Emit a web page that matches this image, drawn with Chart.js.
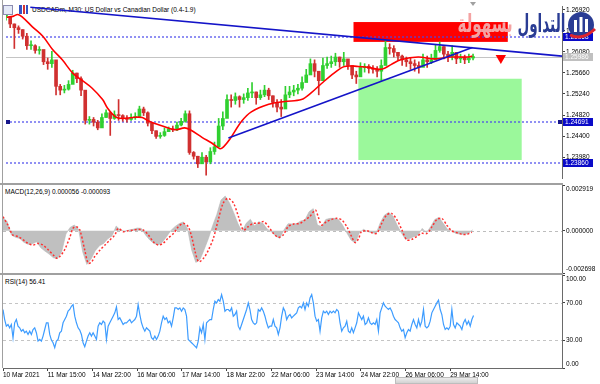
<!DOCTYPE html>
<html><head><meta charset="utf-8">
<script src="https://cdn.jsdelivr.net/npm/chart.js@4.4.1/dist/chart.umd.min.js"></script>
<style>
html,body{margin:0;padding:0;background:#fff;}
#wrap{position:relative;width:600px;height:384px;overflow:hidden;background:#fff;font-family:"Liberation Sans",Arial,sans-serif;}
canvas{position:absolute;left:0;z-index:1;}
.lbl{position:absolute;font-size:6.5px;line-height:7px;color:#000;white-space:nowrap;z-index:0;}
.sep{position:absolute;left:0;width:563px;height:2px;background:#a0a0a0;z-index:2;}
.ar{position:absolute;top:9px;font-family:"DejaVu Sans";font-weight:bold;font-size:25px;line-height:30px;direction:rtl;white-space:nowrap;z-index:3;transform-origin:right top;}
</style></head><body><div id="wrap">
<div class="lbl" style="left:32px;top:6px">USDCADm, M30: US Dollar vs Canadian Dollar (0.4-1.9)</div>
<div class="lbl" style="left:5px;top:188px">MACD(12,26,9) 0.000056 -0.000093</div>
<div class="lbl" style="left:5px;top:278px">RSI(14) 56.41</div>
<canvas id="cMain" width="600" height="184" style="top:0;width:600px;height:184px"></canvas>
<canvas id="cMacd" width="600" height="90" style="top:184px;width:600px;height:90px"></canvas>
<canvas id="cRsi" width="600" height="110" style="top:274px;width:600px;height:110px"></canvas>
<div class="sep" style="top:183px"></div>
<div class="sep" style="top:273px"></div>
<div style="position:absolute;left:2px;top:0;width:1px;height:368px;background:#a0a0a0;z-index:2"></div>
<div style="position:absolute;left:3px;top:5px;width:8px;height:8px;border:1px solid #8c8cb0;background:#e4e9f7;z-index:2"></div>
<div style="position:absolute;left:19px;top:5px;width:9px;height:9px;z-index:2;background:linear-gradient(90deg,#3553c4 0 30%,#fff 30% 40%,#d43232 40% 70%,#fff 70% 80%,#3553c4 80%)"></div>
<div style="position:absolute;left:470px;top:2px;width:0;height:0;border-left:3px solid transparent;border-right:3px solid transparent;border-top:4px solid #a0a0a0;z-index:2"></div>
<div style="position:absolute;left:395px;top:377px;width:83px;height:7px;background:linear-gradient(#ececec,#d2d2d2);border:1px solid #bdbdbd;box-sizing:border-box;z-index:2"></div>
<div class="ar" data-w="48" style="right:35px;color:#2a3c94">التداول</div>
<div class="ar" data-w="55" style="right:87px;color:#f4a3a3">بسهولة</div>
<svg style="position:absolute;left:564px;top:8px;z-index:3" width="34" height="34" viewBox="0 0 34 34">
<circle cx="17" cy="17" r="13" fill="#2a3c94"/>
<rect x="10" y="12" width="3" height="12" fill="#fff"/><rect x="15.5" y="9" width="3" height="15" fill="#fff"/><rect x="21" y="11" width="3" height="13" fill="#fff"/>
<path d="M6 27 Q18 33 31 21" stroke="#e0242c" stroke-width="3" fill="none"/>
</svg>
</div>
<script>
// ---------- data ----------
const xTickBars = [0,64,128,192,256,320,384,448,512,576,640];
const xTickLabels = ["10 Mar 2021","11 Mar 15:00","14 Mar 22:00","16 Mar 06:00","17 Mar 14:00","18 Mar 22:00","22 Mar 06:00","23 Mar 14:00","24 Mar 22:00","26 Mar 06:00","29 Mar 14:00"];
const X_MIN = 0, X_MAX = 800;           // bar index range of the window
const CANDLE_STEP = 6;                   // M30 bars per drawn candle sample

const closes = [
1.26788,1.26637,1.26562,1.26524,1.26392,1.26203,1.26203,1.26109,1.26128,1.25883,
1.25845,1.25921,1.25393,1.25317,1.25336,1.25431,1.25657,1.25544,1.25317,1.24714,
1.24733,1.24677,1.24563,1.24771,1.24865,1.24752,1.24827,1.24809,1.24752,1.24733,
1.24771,1.24790,1.24940,1.24865,1.24658,1.24507,1.24394,1.24413,1.24488,1.24545,
1.24526,1.24620,1.24695,1.24846,1.24073,1.23998,1.23847,1.23979,1.23885,1.24092,
1.24186,1.24601,1.24752,1.25129,1.25110,1.25186,1.25129,1.25167,1.25261,1.25280,
1.25167,1.25223,1.25317,1.25204,1.25072,1.24978,1.24940,1.25223,1.25280,1.25317,
1.25355,1.25468,1.25619,1.25845,1.25694,1.25506,1.25808,1.25845,1.25883,1.25977,
1.25883,1.25940,1.25808,1.25619,1.25581,1.25770,1.25789,1.25751,1.25732,1.25694,
1.25808,1.26166,1.26147,1.26071,1.25996,1.25921,1.25883,1.25845,1.25808,1.25770,
1.25921,1.25883,1.25921,1.26109,1.26185,1.26034,1.25996,1.26071,1.25940,1.25958,
1.25921,1.25958,1.25986];
const highs = [
1.26863,1.26788,1.26637,1.26599,1.26524,1.26448,1.26298,1.26222,1.26185,1.26071,
1.25958,1.26090,1.25845,1.25431,1.25412,1.25506,1.25713,1.25657,1.25581,1.25204,
1.24790,1.24771,1.24714,1.24846,1.24922,1.24884,1.24903,1.25129,1.24827,1.24809,
1.24846,1.24865,1.24997,1.24978,1.24884,1.24658,1.24507,1.24469,1.24563,1.24582,
1.24601,1.24677,1.24752,1.24903,1.24903,1.24092,1.23998,1.24073,1.24017,1.24168,
1.24281,1.24752,1.24884,1.25223,1.25223,1.25261,1.25204,1.25242,1.25355,1.25468,
1.25280,1.25317,1.25412,1.25355,1.25204,1.25129,1.25129,1.25393,1.25393,1.25412,
1.25431,1.25581,1.25732,1.25940,1.25921,1.25657,1.25958,1.25977,1.25996,1.26053,
1.25977,1.26071,1.25921,1.25808,1.25694,1.25864,1.25845,1.25826,1.25808,1.25789,
1.25921,1.26298,1.26241,1.26203,1.26071,1.26015,1.25977,1.25958,1.25921,1.25883,
1.26034,1.25996,1.26034,1.26222,1.26279,1.26185,1.26090,1.26203,1.26034,1.26034,
1.26015,1.26034,1.26034];
const lows = [
1.26712,1.26562,1.26147,1.26448,1.26335,1.26128,1.26128,1.26053,1.26034,1.25826,
1.25732,1.25770,1.25223,1.25223,1.25261,1.25317,1.25506,1.25468,1.25204,1.24639,
1.24639,1.24601,1.24526,1.24677,1.24771,1.24413,1.24733,1.24714,1.24695,1.24677,
1.24714,1.24733,1.24790,1.24809,1.24601,1.24450,1.24356,1.24356,1.24394,1.24488,
1.24488,1.24507,1.24601,1.24677,1.24036,1.23941,1.23772,1.23904,1.23621,1.23847,
1.24036,1.24186,1.24526,1.24790,1.24978,1.25035,1.24978,1.25054,1.25110,1.25167,
1.25035,1.25129,1.25186,1.25129,1.24978,1.24884,1.24790,1.25054,1.25167,1.25204,
1.25242,1.25317,1.25506,1.25657,1.25581,1.25223,1.25694,1.25751,1.25770,1.25808,
1.25770,1.25808,1.25732,1.25544,1.25449,1.25657,1.25676,1.25657,1.25657,1.25581,
1.25506,1.25921,1.26034,1.25977,1.25921,1.25808,1.25789,1.25732,1.25694,1.25657,
1.25808,1.25770,1.25845,1.25958,1.26071,1.25940,1.25883,1.25921,1.25845,1.25864,
1.25845,1.25864,1.25921];

const maBars = [1,10,17,24,38,53,67,81,96,110,124,139,146,157,167,182,196,206,225,243,257,265,282,296,308,313,322,339,353,378,401,425,439,454,472,487,507,521,540,554,568,593,616,640,664,671];
const maValues = [1.26769,1.26788,1.26826,1.26769,1.26580,1.26392,1.26128,1.25921,1.25657,1.25506,
1.25355,1.25129,1.24959,1.24790,1.24752,1.24771,1.24771,1.24695,1.24601,1.24526,
1.24563,1.24526,1.24375,1.24262,1.24149,1.24186,1.24337,1.24695,1.24884,1.25035,
1.25091,1.25129,1.25261,1.25449,1.25657,1.25789,1.25789,1.25770,1.25732,1.25826,
1.25921,1.25977,1.25940,1.25977,1.25977,1.25996];

const priceTicks = [1.23980,1.24400,1.24820,1.25240,1.25660,1.26080,1.26500,1.26920];
const PRICE_MIN = 1.23564, PRICE_MAX = 1.26995;
const hLevels = [1.26368, 1.24691, 1.23860];
const lastPrice = 1.25986;
const trendDown = [{x:35,y:1.26969},{x:800,y:1.25996}];
const trendUp = [{x:320,y:1.24362},{x:671,y:1.26166}];
const redZone = {x0:500,x1:722,yLow:1.26279,yHigh:1.26675};
const greenZone = {x0:507,x1:742,yLow:1.23923,yHigh:1.25544};
const sellArrow = [{x:712,y:1.25958}];

const macdHist = [
0.00085,0.00058,-0.00027,-0.00042,-0.00049,-0.00074,-0.00087,-0.00083,-0.00070,-0.00108,
-0.00130,-0.00149,-0.00172,-0.00178,-0.00134,-0.00021,0.00021,0.00036,0.00011,-0.00134,
-0.00215,-0.00181,-0.00127,-0.00096,-0.00081,-0.00051,-0.00034,0.00030,0.00004,-0.00004,
0.00004,0.00009,0.00017,0.00015,-0.00027,-0.00059,-0.00081,-0.00091,-0.00074,-0.00038,
0.00000,0.00026,0.00045,0.00056,0.00015,-0.00123,-0.00202,-0.00183,-0.00119,-0.00049,
0.00032,0.00104,0.00196,0.00221,0.00179,0.00117,0.00047,-0.00006,0.00047,0.00073,
0.00030,0.00058,0.00047,0.00011,-0.00006,-0.00032,-0.00049,0.00004,0.00045,0.00043,
0.00045,0.00062,0.00068,0.00121,0.00141,0.00036,0.00026,0.00072,0.00079,0.00079,
0.00072,0.00036,-0.00013,-0.00059,-0.00076,-0.00013,0.00009,-0.00006,-0.00013,-0.00017,
0.00051,0.00100,0.00117,0.00094,0.00036,-0.00013,-0.00055,-0.00049,-0.00038,-0.00027,
0.00015,-0.00013,0.00026,0.00072,0.00085,0.00047,0.00009,0.00000,-0.00017,-0.00021,
-0.00023,-0.00017,0.00006];
const signalBars = [0,7,14,22,29,36,43,50,57,65,72,77,81,88,96,100,105,110,117,122,
127,131,139,146,153,160,165,172,179,186,194,201,208,215,222,229,236,244,251,258,
265,270,275,280,287,294,301,308,315,322,330,337,344,351,358,365,373,380,387,394,
401,408,416,425,432,439,447,451,456,463,470,478,485,492,499,504,509,513,521,528,
535,542,549,556,564,571,578,585,592,599,607,614,621,628,635,642,650,657,664,671];
const signalValues = [0.00090,0.00036,-0.00027,-0.00038,-0.00059,-0.00081,-0.00091,-0.00081,-0.00091,-0.00123,
-0.00155,-0.00176,-0.00166,-0.00123,-0.00038,0.00015,0.00026,0.00004,-0.00123,-0.00208,
-0.00198,-0.00166,-0.00123,-0.00091,-0.00059,-0.00027,0.00015,-0.00006,0.00000,0.00004,
0.00009,0.00004,-0.00027,-0.00070,-0.00091,-0.00081,-0.00049,-0.00017,0.00026,0.00047,
0.00026,-0.00038,-0.00134,-0.00198,-0.00176,-0.00123,-0.00049,0.00068,0.00175,0.00207,
0.00175,0.00090,0.00004,0.00026,0.00047,0.00047,0.00058,0.00026,-0.00017,-0.00042,
-0.00027,0.00026,0.00043,0.00047,0.00068,0.00090,0.00132,0.00090,0.00036,0.00058,
0.00072,0.00079,0.00068,0.00026,-0.00038,-0.00076,-0.00049,-0.00006,0.00000,-0.00013,
-0.00017,0.00047,0.00100,0.00111,0.00068,0.00004,-0.00059,-0.00055,-0.00038,-0.00017,
-0.00017,0.00026,0.00072,0.00079,0.00036,0.00000,-0.00013,-0.00023,-0.00023,-0.00009];
const macdTicks = [-0.002698, 0, 0.002919];

const RSI_STEP = 2.388;                  // M30 bars per RSI sample
const rsiValues = [
62.9,52.1,45.0,46.8,43.2,46.8,32.5,48.6,52.1,45.0,
43.2,39.6,41.4,37.9,39.6,36.1,39.6,36.1,41.4,43.2,
37.9,28.9,30.7,28.9,34.3,41.4,48.6,48.6,36.1,30.0,
27.2,21.8,28.9,30.7,37.9,39.6,48.6,52.1,55.7,61.1,
62.9,66.4,68.2,55.7,48.6,43.2,40.7,36.1,27.2,22.9,
28.9,34.3,37.9,34.3,37.9,34.3,30.7,45.0,48.6,46.8,
50.4,48.6,30.7,45.0,48.6,52.1,55.7,59.3,65.7,52.1,
53.9,50.4,46.8,48.6,48.6,50.4,52.1,48.6,50.4,52.1,
55.7,68.2,57.5,48.6,43.2,39.6,43.2,41.4,39.6,32.5,
30.7,34.3,30.7,34.3,39.6,48.6,55.7,52.1,53.9,48.6,
50.4,45.0,53.9,64.6,64.6,62.9,64.6,61.1,64.6,62.9,
55.7,30.7,28.9,27.2,25.4,23.6,21.8,28.9,43.2,37.9,
46.8,30.7,48.6,50.4,52.1,52.1,62.9,71.8,70.0,73.6,
71.8,78.9,71.8,61.1,62.9,62.9,61.1,64.6,55.7,57.5,
61.1,45.0,41.4,46.8,52.1,57.5,62.9,70.0,62.9,52.1,
48.6,46.8,48.6,62.9,61.1,64.6,61.1,55.7,48.6,43.2,
45.0,45.0,52.1,45.0,43.2,36.1,43.2,55.7,64.6,61.1,
52.1,55.7,57.5,53.9,55.7,57.5,59.3,64.6,66.4,64.6,
70.0,62.9,70.0,66.4,75.4,78.9,70.0,55.7,50.4,52.1,
39.6,53.9,61.1,59.3,61.1,57.5,61.1,59.3,61.1,59.3,
62.9,61.1,48.6,39.6,43.2,45.0,50.4,39.6,37.9,43.2,
37.9,43.2,48.6,59.3,55.7,52.1,55.7,46.8,48.6,53.9,
48.6,46.8,48.6,46.8,52.1,39.6,59.3,64.6,70.0,66.4,
64.6,62.9,64.6,61.1,55.7,52.1,50.4,48.6,43.2,39.6,
41.4,32.5,37.9,41.4,39.6,46.8,52.1,46.8,43.2,52.1,
45.0,50.4,62.9,45.0,43.2,45.0,50.4,59.3,62.9,66.4,
70.0,72.9,62.9,57.5,46.8,41.4,43.2,41.4,45.0,62.9,
46.8,43.2,48.6,46.8,45.0,41.4,48.6,52.1,46.8,50.4,
45.0,52.1,56.41];
const rsiTicks = [0,30,70,100];
const rsiLevels = [30,70];

// ---------- rendering ----------
document.querySelectorAll('.ar').forEach(el => {
  const w = el.getBoundingClientRect().width;
  el.style.transform = 'scaleX(' + (Number(el.dataset.w) / w) + ')';
});

Chart.defaults.font.family = '"Liberation Sans", Arial, sans-serif';
Chart.defaults.font.size = 6.5;
Chart.defaults.color = '#000';

const UP = '#30d030', DOWN = '#d03030';
const opens = closes.map((c,i)=> i ? closes[i-1] : c);
const candleColors = closes.map((c,i)=> c >= opens[i] ? UP : DOWN);
const bodies = closes.map((c,i)=>({x:i*CANDLE_STEP, y:[opens[i], c]}));
const wicks = closes.map((c,i)=>({x:i*CANDLE_STEP, y:[lows[i], highs[i]]}));
const maPts = maBars.map((b,i)=>({x:b, y:maValues[i]}));
const histPts = macdHist.map((v,i)=>({x:i*CANDLE_STEP, y:v}));
const sigPts = signalBars.map((b,i)=>({x:b, y:signalValues[i]}));
const rsiPts = rsiValues.map((v,i)=>({x:i*RSI_STEP, y:v}));

const baseOpts = {responsive:false, animation:false, events:[], plugins:{legend:{display:false}, tooltip:{enabled:false}}};
const xHidden = {type:'linear', min:X_MIN, max:X_MAX, display:false, offset:false};

function noPad(s){ s.paddingTop = 0; s.paddingBottom = 0; s.paddingLeft = 0; s.paddingRight = 0; }
function yAxis(min, max, ticks, fmt){
  return {position:'right', min, max, offset:false,
    afterBuildTicks: s => { s.ticks = ticks.map(v => ({value:v})); },
    afterFit: s => { s.width = 38; noPad(s); },
    grid:{drawOnChartArea:false, drawTicks:true, tickLength:3, tickColor:'#404040', tickWidth:1},
    border:{display:true, color:'#6a6a6a', width:1},
    ticks:{padding:1, color:'#000', autoSkip:false, font:{size:6.5}, callback:fmt}};
}
function edgeLabel(text, idx, n){
  if (idx === n-1) return ['', text];
  if (idx === 0) return [text, ''];
  return text;
}
function hline(ctx, a, py){ ctx.beginPath(); ctx.moveTo(a.left, py); ctx.lineTo(a.right, py); ctx.stroke(); }

const mainDeco = {id:'mainDeco',
  beforeDatasetsDraw(chart){
    const {ctx, chartArea:a, scales:{x, y}} = chart;
    ctx.save();
    ctx.beginPath(); ctx.rect(a.left, a.top, a.right-a.left, a.bottom-a.top); ctx.clip();
    const zone = (z, col) => {
      const x0 = x.getPixelForValue(z.x0), x1 = x.getPixelForValue(z.x1);
      const y0 = y.getPixelForValue(z.yHigh), y1 = y.getPixelForValue(z.yLow);
      ctx.fillStyle = col; ctx.fillRect(x0, y0, x1-x0, y1-y0);
    };
    zone(greenZone, '#9bf89b');
    zone(redZone, '#ff0000');
    ctx.strokeStyle = '#c4c4c4'; ctx.lineWidth = 1;
    hline(ctx, a, Math.round(y.getPixelForValue(lastPrice)) + 0.5);
    ctx.setLineDash([2,2]); ctx.strokeStyle = 'rgba(70,70,235,0.8)'; ctx.lineWidth = 1.5;
    hLevels.forEach(v => hline(ctx, a, Math.round(y.getPixelForValue(v))));
    ctx.setLineDash([]);
    ctx.restore();
  },
  afterDraw(chart){
    const {ctx, chartArea:a, scales:{y}} = chart;
    ctx.save();
    ctx.font = '6.5px "Liberation Sans", Arial'; ctx.textBaseline = 'middle'; ctx.textAlign = 'left';
    const tag = (v, bg) => {
      const py = Math.round(y.getPixelForValue(v));
      ctx.fillStyle = bg; ctx.fillRect(a.right+1, py-4, 30, 8);
      ctx.fillStyle = '#fff'; ctx.fillText(v.toFixed(5), a.right+3, py+0.5);
    };
    tag(lastPrice, '#c0c0c0');
    hLevels.forEach(v => tag(v, '#0a0ac8'));
    const pm = Math.round(y.getPixelForValue(hLevels[1]));
    ctx.fillStyle = '#16168a';
    ctx.fillRect(a.left, pm-2, 4, 4); ctx.fillRect(a.right-4, pm-2, 4, 4);
    ctx.restore();
  }};

new Chart(document.getElementById('cMain'), {
  type:'bar',
  data:{datasets:[
    {type:'bar', data:wicks, backgroundColor:candleColors, barThickness:1, grouped:false, order:5},
    {type:'bar', data:bodies, backgroundColor:candleColors, barThickness:3, minBarLength:1, grouped:false, order:4},
    {type:'line', data:maPts, borderColor:'#ff0000', borderWidth:1.6, pointRadius:0, tension:0.35, order:3},
    {type:'line', data:trendDown, borderColor:'#1414c8', borderWidth:1.6, pointRadius:0, order:2},
    {type:'line', data:trendUp, borderColor:'#1414c8', borderWidth:1.6, pointRadius:0, order:2},
    {type:'scatter', data:sellArrow, pointStyle:'triangle', pointRadius:6, pointRotation:180, pointBackgroundColor:'#ff0000', pointBorderColor:'#ff0000', pointBorderWidth:0, order:1}
  ]},
  options:Object.assign({}, baseOpts, {
    layout:{padding:{left:3, right:0, top:1, bottom:1}},
    scales:{x:xHidden, y:yAxis(PRICE_MIN, PRICE_MAX, priceTicks, v => v.toFixed(5))}
  }),
  plugins:[mainDeco]
});

const macdDeco = {id:'macdDeco', beforeDatasetsDraw(chart){
  const {ctx, chartArea:a, scales:{y}} = chart;
  ctx.save(); ctx.strokeStyle = '#bdbdbd'; ctx.lineWidth = 1; ctx.setLineDash([3,3]);
  hline(ctx, a, Math.round(y.getPixelForValue(0)) + 0.5); ctx.restore();
}};
new Chart(document.getElementById('cMacd'), {
  type:'line',
  data:{datasets:[
    {data:histPts, fill:'origin', backgroundColor:'#c0c0c0', borderColor:'#b8b8b8', borderWidth:0.6, pointRadius:0, tension:0, order:2},
    {data:sigPts, borderColor:'#ff3030', borderWidth:1.5, borderDash:[2,2], pointRadius:0, tension:0.3, fill:false, order:1}
  ]},
  options:Object.assign({}, baseOpts, {
    layout:{padding:{left:3, right:0, top:1, bottom:1}},
    scales:{x:xHidden, y:yAxis(macdTicks[0], macdTicks[2], macdTicks, (v,i,t) => edgeLabel(v.toFixed(6), i, t.length))}
  }),
  plugins:[macdDeco]
});

const rsiDeco = {id:'rsiDeco', beforeDatasetsDraw(chart){
  const {ctx, chartArea:a, scales:{y}} = chart;
  ctx.save(); ctx.strokeStyle = '#c4c4c4'; ctx.lineWidth = 1; ctx.setLineDash([3,3]);
  rsiLevels.forEach(v => hline(ctx, a, Math.round(y.getPixelForValue(v)) + 0.5)); ctx.restore();
}};
new Chart(document.getElementById('cRsi'), {
  type:'line',
  data:{datasets:[
    {data:rsiPts, borderColor:'#3d9cff', borderWidth:1.2, pointRadius:0, tension:0}
  ]},
  options:Object.assign({}, baseOpts, {
    layout:{padding:{left:3, right:0, top:1, bottom:0}},
    scales:{
      x:{type:'linear', min:X_MIN, max:X_MAX, offset:false, position:'bottom',
        afterBuildTicks: s => { s.ticks = xTickBars.map(v => ({value:v})); },
        afterFit: s => { s.height = 16; noPad(s); },
        grid:{drawOnChartArea:false, drawTicks:true, tickLength:3, tickColor:'#404040'},
        border:{display:true, color:'#6a6a6a', width:1},
        ticks:{align:'start', maxRotation:0, autoSkip:false, padding:0, color:'#000', font:{size:6.5},
          callback:(v,i) => xTickLabels[i]}},
      y:yAxis(0, 100, rsiTicks, (v,i,t) => edgeLabel(v.toFixed(2), i, t.length))
    }
  }),
  plugins:[rsiDeco]
});
</script>
</body></html>
